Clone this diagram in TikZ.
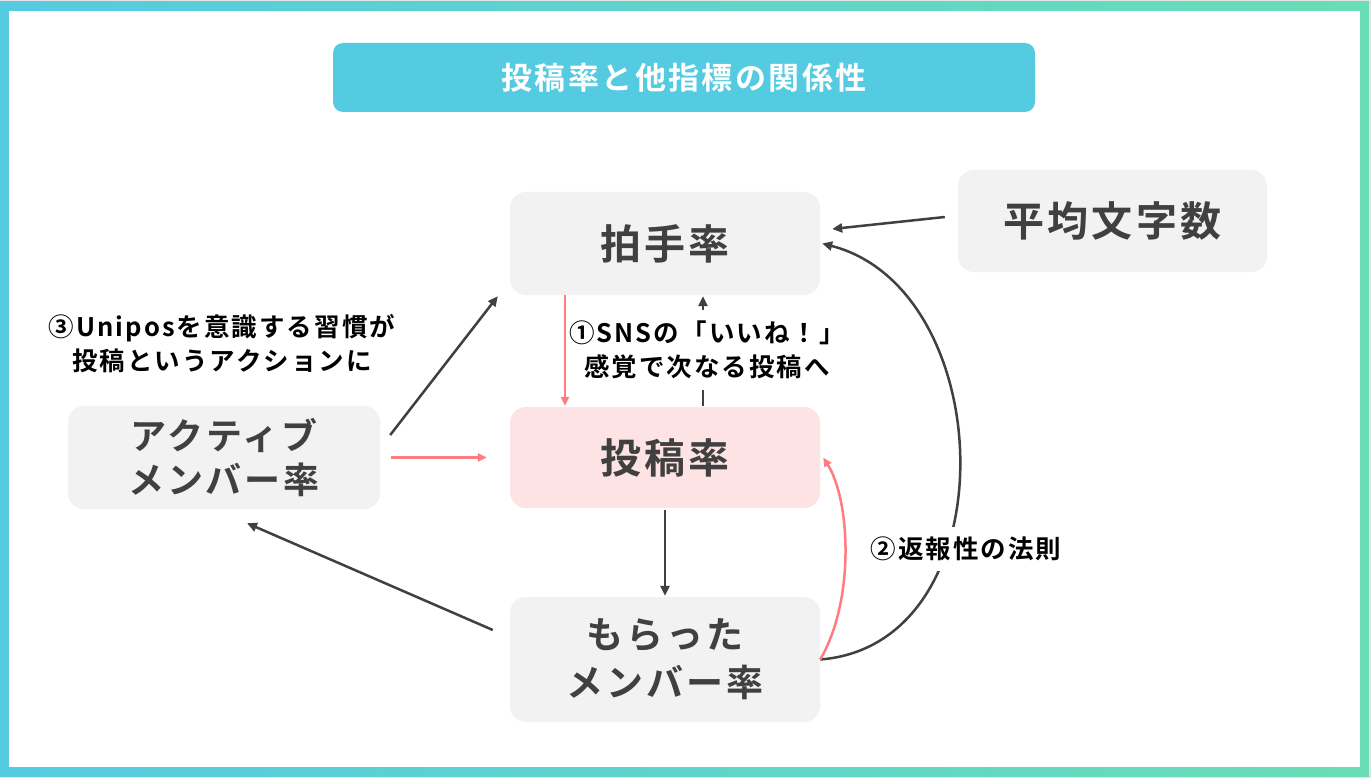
\documentclass[tikz,border=0pt]{standalone}
\usepackage{fontspec}
\setmainfont{Noto Sans CJK JP}[BoldFont={Noto Sans CJK JP Bold}, LetterSpace=8]
\usetikzlibrary{arrows.meta,calc}
\definecolor{frameL}{HTML}{55CBE1}
\definecolor{frameR}{HTML}{69DDB5}
\definecolor{titlebg}{HTML}{55CBE1}
\definecolor{boxgray}{HTML}{F2F2F2}
\definecolor{boxpink}{HTML}{FDE3E4}
\definecolor{txtgray}{HTML}{404040}
\definecolor{arrdark}{HTML}{404040}
\definecolor{arrred}{HTML}{FF7C80}
\definecolor{outergray}{HTML}{E4E4E4}
\tikzset{
  box/.style={rounded corners=16pt, minimum width=310pt, minimum height=103pt, inner sep=0pt,
    align=center, text=txtgray, fill=boxgray, font=\bfseries\fontsize{41}{48}\selectfont},
  twoline/.style={font=\bfseries\fontsize{36}{44}\selectfont},
  lab/.style={font=\bfseries\fontsize{25.5}{34}\selectfont, align=center, text=black, inner xsep=3pt},
  darr/.style={draw=arrdark, line width=2.5pt, -{Triangle[length=10pt,width=9pt]}},
  rarr/.style={draw=arrred, line width=2.5pt, -{Triangle[length=9pt,width=8pt]}}
}
\begin{document}
\begin{tikzpicture}[x=1pt,y=-1pt]
\useasboundingbox (0,0) rectangle (1371,778);
\fill[outergray] (0,0) rectangle (1371,778);
\shade[left color=frameL, right color=frameR] (0,2) rectangle (1369,776);
\fill[white] (9,11) rectangle (1360,767);

\node[rounded corners=10pt, fill=titlebg, minimum width=702pt, minimum height=69pt, inner sep=0pt,
  text=white, font=\bfseries\fontsize{31}{36}\selectfont] (title) at (684,77.5) {投稿率と他指標の関係性};

\node[box] (hakushu) at (665,243.5) {拍手率};
\node[box, minimum width=309pt, minimum height=102pt] (avg) at (1112.5,221) {平均文字数};
\node[box, fill=boxpink, minimum height=101pt] (toko) at (665,457.5) {投稿率};
\node[box, twoline, minimum width=312pt] (active) at (224,457.5) {アクティブ\\メンバー率};
\node[box, font=\bfseries\fontsize{37}{48}\selectfont, minimum height=125pt] (moratta) at (665,659.5) {もらった\\メンバー率};

% arrows
\draw[darr] ($(avg.west)+(-13,-4)$) -- ($(hakushu.east)+(12,-14.5)$);
\draw[darr] (moratta.east) .. controls ($(moratta.east)+(190,-15)$) and ($(hakushu.east)+(180,46)$) .. ($(hakushu.east)+(2,0)$);
\draw[rarr] (moratta.east) .. controls ($(moratta.east)+(35,-59.5)$) and ($(toko.east)+(30,42.5)$) .. ($(toko.east)+(3,0)$);
\draw[rarr] ($(hakushu.south)+(-100,0)$) -- ($(toko.north)+(-100,-1)$);
\draw[darr] ($(toko.north)+(38,-1)$) -- ($(hakushu.south)+(38,1)$);
\draw[darr] ($(toko.south)+(0,2)$) -- ($(moratta.north)+(0,-1)$);
\draw[darr] ($(moratta.west)+(-17,-29.5)$) -- ($(active.south)+(23,14)$);
\draw[darr] ($(active.east)+(10,-22.5)$) -- ($(hakushu.south west)+(-12,1)$);
\draw[rarr] ($(active.east)+(11,0)$) -- ($(toko.west)+(-23,0)$);

% labels
\node[lab, fill=white, inner ysep=11pt] (lab1) at (707,350) {①SNSの「いいね！」\\感覚で次なる投稿へ};
\node[lab, fill=white, inner ysep=10pt] (lab2) at (966,549) {②返報性の法則};
\node[lab] (lab3) at (222,343.5) {③Uniposを意識する習慣が\\投稿というアクションに};
\end{tikzpicture}
\end{document}
